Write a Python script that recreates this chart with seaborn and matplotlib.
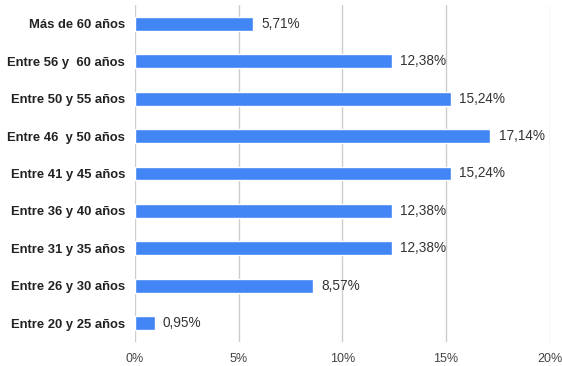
import matplotlib
matplotlib.use("Agg")
import matplotlib.pyplot as plt
import seaborn as sns
import pandas as pd

categories = [
    "Más de 60 años",
    "Entre 56 y  60 años",
    "Entre 50 y 55 años",
    "Entre 46  y 50 años",
    "Entre 41 y 45 años",
    "Entre 36 y 40 años",
    "Entre 31 y 35 años",
    "Entre 26 y 30 años",
    "Entre 20 y 25 años",
]
percentages = [5.71, 12.38, 15.24, 17.14, 15.24, 12.38, 12.38, 8.57, 0.95]
x_ticks = [0, 5, 10, 15, 20]
x_tick_labels = ["0%", "5%", "10%", "15%", "20%"]

df = pd.DataFrame({"grupo": categories, "pct": percentages})

sns.set_theme(style="white")
plt.rcParams["font.family"] = ["Liberation Sans", "DejaVu Sans"]

fig = plt.figure(figsize=(5.62, 3.66), dpi=100)
ax = fig.add_axes([0.240, 0.066, 0.738, 0.920])

sns.barplot(data=df, y="grupo", x="pct", orient="h", color="#4285F4",
            saturation=1, width=0.37, ax=ax, zorder=3)

for i, v in enumerate(percentages):
    ax.text(v + 0.4, i, f"{v:.2f}".replace(".", ",") + "%", va="center",
            ha="left", fontsize=9.8, color="#333333")

ax.set_xlim(0, 20)
ax.set_ylim(8.5, -0.5)
ax.set_xticks(x_ticks)
ax.set_xticklabels(x_tick_labels, fontsize=9, color="#444444")
ax.tick_params(axis="x", length=0, pad=8)
ax.tick_params(axis="y", length=0, pad=7)
for lbl in ax.get_yticklabels():
    lbl.set_fontweight("bold")
    lbl.set_fontsize(9.4)
    lbl.set_color("#222222")
ax.set_xlabel("")
ax.set_ylabel("")
ax.grid(axis="x", color="#cccccc", linewidth=1, zorder=0)
for s in ax.spines.values():
    s.set_visible(False)

fig.savefig("out.png", dpi=100)
